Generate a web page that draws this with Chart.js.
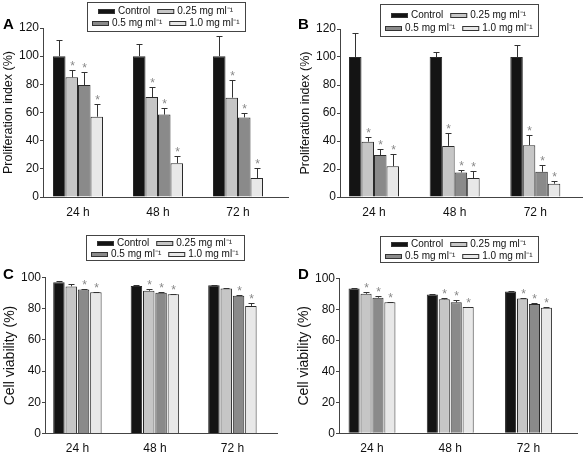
<!DOCTYPE html>
<html>
<head>
<meta charset="utf-8">
<script src="https://cdn.jsdelivr.net/npm/chart.js@4.4.1/dist/chart.umd.min.js"></script>
<style>
  body { margin: 0; background: #fff; width: 583px; height: 455px; position: relative; overflow: hidden; }
  canvas { position: absolute; }
</style>
</head>
<body>
<canvas id="chartA" width="290" height="225" style="left:0;top:0"></canvas>
<canvas id="chartB" width="293" height="225" style="left:290px;top:0"></canvas>
<canvas id="chartC" width="290" height="230" style="left:0;top:225px"></canvas>
<canvas id="chartD" width="293" height="230" style="left:290px;top:225px"></canvas>
<script>
// categories and series
const timePoints = ['24 h', '48 h', '72 h'];
const doseLabels = ['Control', '0.25 mg ml⁻¹', '0.5 mg ml⁻¹', '1.0 mg ml⁻¹'];
const doseColors = ['#141414', '#c6c6c6', '#8a8a8a', '#e8e8e8'];

const prolifTicks = [0, 20, 40, 60, 80, 100, 120];
const viabTicks = [0, 20, 40, 60, 80, 100];

// A - proliferation index (rows = dose, cols = time point)
const prolifA = [[100, 100, 100], [85, 71, 70.5], [79.5, 58.5, 56.5], [57, 24, 13.5]];
const prolifAErr = [[11.5, 8.5, 14.5], [5, 7, 12.5], [9.5, 4.5, 3], [9, 5, 7]];
const prolifASig = [[0, 0, 0], [1, 1, 1], [1, 1, 1], [1, 1, 1]];

// B - proliferation index
const prolifB = [[100, 100, 100], [39.5, 36.5, 37], [30, 17.5, 18], [22, 13.5, 9.5]];
const prolifBErr = [[17, 3.5, 8.5], [3.5, 9, 7], [4.5, 2, 5], [9, 5, 1.7]];
const prolifBSig = [[0, 0, 0], [1, 1, 1], [1, 1, 1], [1, 1, 1]];

// C - cell viability
const viabC = [[97, 94.5, 95], [94.3, 91.5, 93], [92.3, 90.2, 88.3], [90.5, 89.2, 81.8]];
const viabCErr = [[1, 0.4, 0.4], [1.8, 1.2, 0.3], [0.4, 0.5, 0.6], [0.3, 0.4, 2]];
const viabCSig = [[0, 0, 0], [0, 1, 0], [1, 1, 1], [1, 1, 1]];

// D - cell viability
const viabD = [[93.5, 89.5, 91.5], [90, 86.5, 87], [87.5, 84.5, 83.5], [84.5, 81.5, 81]];
const viabDErr = [[0.4, 0.3, 0.3], [1, 0.5, 0.3], [0.9, 1.3, 0.5], [0.5, 0.3, 0.8]];
const viabDSig = [[0, 0, 0], [1, 1, 1], [1, 1, 1], [1, 1, 1]];

const FONT = '"Liberation Sans", Arial, sans-serif';

// error bars + asterisks
const errorBars = {
  id: 'errorBars',
  afterDatasetsDraw(chart) {
    const ctx = chart.ctx;
    const yScale = chart.scales.y;
    ctx.save();
    chart.data.datasets.forEach((ds, i) => {
      const meta = chart.getDatasetMeta(i);
      meta.data.forEach((bar, j) => {
        const v = ds.data[j].y;
        const top = Math.round(yScale.getPixelForValue(v + ds.errors[j])) + 0.5;
        const x = Math.round(bar.x) + 0.5;
        ctx.strokeStyle = '#333';
        ctx.lineWidth = 1;
        ctx.beginPath();
        ctx.moveTo(x, bar.y);
        ctx.lineTo(x, top);
        ctx.moveTo(x - 3, top);
        ctx.lineTo(x + 3, top);
        ctx.stroke();
        if (ds.signif[j]) {
          ctx.fillStyle = '#888';
          ctx.font = '12px ' + FONT;
          ctx.textAlign = 'center';
          ctx.textBaseline = 'alphabetic';
          ctx.fillText('*', x, top - 0.5);
        }
      });
    });
    ctx.restore();
  }
};

// framed two-row legend and panel letter
const boxLegend = {
  id: 'boxLegend',
  afterDraw(chart, args, opts) {
    const { ctx, chartArea } = chart;
    const ds = chart.data.datasets;
    const cx = (chartArea.left + chartArea.right) / 2 + opts.shiftX;
    const left = Math.round(cx - opts.width / 2) + 0.5;
    const top = opts.top + 0.5;
    ctx.save();
    ctx.strokeStyle = '#444';
    ctx.lineWidth = 1;
    ctx.strokeRect(left, top, opts.width, opts.height);
    ctx.font = '10px ' + FONT;
    ctx.textBaseline = 'middle';
    ctx.textAlign = 'left';
    [[0, 1], [2, 3]].forEach((row, r) => {
      const widths = row.map(i => 20 + ctx.measureText(ds[i].label).width);
      let x = Math.round(cx - (widths[0] + widths[1] + 7) / 2);
      const y = Math.round(top + opts.rows[r]);
      row.forEach((i, k) => {
        ctx.fillStyle = ds[i].backgroundColor;
        ctx.fillRect(x, y - 2, 17, 5);
        ctx.strokeStyle = '#333';
        ctx.strokeRect(x + 0.5, y - 1.5, 16, 4);
        ctx.fillStyle = '#111';
        ctx.fillText(ds[i].label, x + 20, y + 0.5);
        x += widths[k] + 7;
      });
    });
    ctx.font = 'bold 15px ' + FONT;
    ctx.fillStyle = '#000';
    ctx.textBaseline = 'alphabetic';
    ctx.fillText(opts.letter, opts.letterX, opts.letterY);
    ctx.restore();
  }
};

function makePanel(id, values, errs, sigs, ticks, p) {
  new Chart(document.getElementById(id), {
    type: 'bar',
    data: {
      datasets: doseLabels.map((label, i) => ({
        label: label,
        data: values[i].map((v, j) => ({ x: j, y: v })),
        errors: errs[i],
        signif: sigs[i],
        backgroundColor: doseColors[i],
        borderColor: '#2a2a2a',
        borderWidth: 1,
        categoryPercentage: p.catPct,
        barPercentage: p.barPct
      }))
    },
    options: {
      responsive: false,
      animation: false,
      layout: { padding: { left: p.padLeft, top: p.padTop, right: p.padRight, bottom: p.padBottom } },
      plugins: {
        legend: { display: false },
        tooltip: { enabled: false },
        boxLegend: p.legend
      },
      scales: {
        x: {
          type: 'linear',
          min: p.xMin,
          max: p.xMax,
          offset: false,
          afterBuildTicks: (scale) => { scale.ticks = timePoints.map((t, i) => ({ value: i })); },
          afterFit: (scale) => { scale.height = 20; },
          grid: { display: false, drawTicks: false, offset: false },
          border: { display: true, color: '#444', width: 1 },
          ticks: {
            padding: 8,
            color: '#111',
            font: { family: FONT, size: 12 },
            callback: (v) => timePoints[v]
          }
        },
        y: {
          min: ticks[0],
          max: ticks[ticks.length - 1],
          afterBuildTicks: (scale) => { scale.ticks = ticks.map(t => ({ value: t })); },
          afterFit: (scale) => { scale.width = p.axisX - p.padLeft; },
          grid: { drawOnChartArea: false, drawTicks: true, tickLength: 3, color: '#444' },
          border: { display: true, color: '#444', width: 1 },
          ticks: {
            padding: 1,
            color: '#111',
            font: { family: FONT, size: 12 }
          },
          title: {
            display: true,
            text: p.title,
            color: '#111',
            font: { family: FONT, size: p.titleSize },
            padding: { top: 1.5, bottom: 0 }
          }
        }
      }
    },
    plugins: [errorBars, boxLegend]
  });
}

makePanel('chartA', prolifA, prolifAErr, prolifASig, prolifTicks, {
  axisX: 43, padLeft: 0, padTop: 28, padRight: 2, padBottom: 8,
  xMin: -0.4375, xMax: 2.625, catPct: 0.625, barPct: 1,
  title: 'Proliferation index (%)', titleSize: 12.5,
  legend: { shiftX: 0, top: 2, width: 158, height: 29, rows: [8, 20], letter: 'A', letterX: 3, letterY: 29 }
});
makePanel('chartB', prolifB, prolifBErr, prolifBSig, prolifTicks, {
  axisX: 50, padLeft: 7, padTop: 29, padRight: 1, padBottom: 8,
  xMin: -0.4216, xMax: 2.579, catPct: 0.62, barPct: 1,
  title: 'Proliferation index (%)', titleSize: 12.5,
  legend: { shiftX: -2, top: 4, width: 158, height: 32, rows: [10, 23], letter: 'B', letterX: 8, letterY: 29 }
});
makePanel('chartC', viabC, viabCErr, viabCSig, viabTicks, {
  axisX: 45, padLeft: 0, padTop: 52.5, padRight: 13, padBottom: 1.5,
  xMin: -0.418, xMax: 2.5755, catPct: 0.636, barPct: 0.93,
  title: 'Cell viability (%)', titleSize: 14,
  legend: { shiftX: 4, top: 10, width: 158, height: 25, rows: [7.5, 18.5], letter: 'C', letterX: 3, letterY: 54 }
});
makePanel('chartD', viabD, viabDErr, viabDSig, viabTicks, {
  axisX: 49, padLeft: 4, padTop: 53.3, padRight: 6, padBottom: 1.7,
  xMin: -0.4217, xMax: 2.62, catPct: 0.61, barPct: 0.93,
  title: 'Cell viability (%)', titleSize: 14,
  legend: { shiftX: 1, top: 11, width: 158, height: 26, rows: [7.5, 19.5], letter: 'D', letterX: 8, letterY: 54 }
});
</script>
</body>
</html>
